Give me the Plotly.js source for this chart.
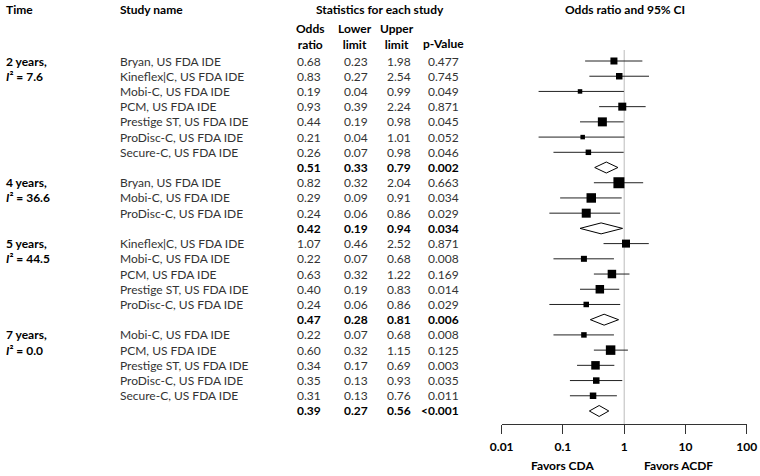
<!DOCTYPE html>
<html>
<head>
<meta charset="utf-8">
<script src="https://cdn.plot.ly/plotly-3.0.1.min.js"></script>
<style>html,body{margin:0;padding:0;background:#fff;}#chart{width:760px;height:476px;}</style>
</head>
<body>
<div id="chart"></div>
<script>
// ---------- DATA ----------
const groupLabels = ["2 years,", "4 years,", "5 years,", "7 years,"];
const groupI2 = ["7.6", "36.6", "44.5", "0.0"];
const groupSizes = [8, 4, 6, 6]; // rows per group incl. summary row

const studyNames = [
  "Bryan, US FDA IDE", "Kineflex|C, US FDA IDE", "Mobi-C, US FDA IDE", "PCM, US FDA IDE",
  "Prestige ST, US FDA IDE", "ProDisc-C, US FDA IDE", "Secure-C, US FDA IDE", "",
  "Bryan, US FDA IDE", "Mobi-C, US FDA IDE", "ProDisc-C, US FDA IDE", "",
  "Kineflex|C, US FDA IDE", "Mobi-C, US FDA IDE", "PCM, US FDA IDE", "Prestige ST, US FDA IDE", "ProDisc-C, US FDA IDE", "",
  "Mobi-C, US FDA IDE", "PCM, US FDA IDE", "Prestige ST, US FDA IDE", "ProDisc-C, US FDA IDE", "Secure-C, US FDA IDE", ""
];
const isSummary = [
  0,0,0,0,0,0,0,1,
  0,0,0,1,
  0,0,0,0,0,1,
  0,0,0,0,0,1
];
const oddsRatio = [
  0.68, 0.83, 0.19, 0.93, 0.44, 0.21, 0.26, 0.51,
  0.82, 0.29, 0.24, 0.42,
  1.07, 0.22, 0.63, 0.40, 0.24, 0.47,
  0.22, 0.60, 0.34, 0.35, 0.31, 0.39
];
const lowerLimit = [
  0.23, 0.27, 0.04, 0.39, 0.19, 0.04, 0.07, 0.33,
  0.32, 0.09, 0.06, 0.19,
  0.46, 0.07, 0.32, 0.19, 0.06, 0.28,
  0.07, 0.32, 0.17, 0.13, 0.13, 0.27
];
const upperLimit = [
  1.98, 2.54, 0.99, 2.24, 0.98, 1.01, 0.98, 0.79,
  2.04, 0.91, 0.86, 0.94,
  2.52, 0.68, 1.22, 0.83, 0.86, 0.81,
  0.68, 1.15, 0.69, 0.93, 0.76, 0.56
];
const pValues = [
  "0.477", "0.745", "0.049", "0.871", "0.045", "0.052", "0.046", "0.002",
  "0.663", "0.034", "0.029", "0.034",
  "0.871", "0.008", "0.169", "0.014", "0.029", "0.006",
  "0.008", "0.125", "0.003", "0.035", "0.011", "<0.001"
];
// relative study weight (drives square size)
const studyWeight = [
  7, 6.5, 4.5, 8, 9, 4.5, 5.5, null,
  11, 9.5, 9, null,
  8, 6, 8.5, 8.5, 5.5, null,
  5.5, 9.5, 8.5, 6.5, 6.5, null
];
const tickValues = [0.01, 0.1, 1, 10, 100];
const tickLabels = ["0.01", "0.1", "1", "10", "100"];

// ---------- BUILD ----------
const FONT = "Lato, 'Open Sans', sans-serif";
const rows = oddsRatio.map((_, i) => i);

// studies (squares with CI)
const sx = [], sy = [], sPlus = [], sMinus = [], sSize = [];
rows.forEach(i => {
  if (!isSummary[i]) {
    sx.push(oddsRatio[i]); sy.push(i);
    sPlus.push(upperLimit[i] - oddsRatio[i]);
    sMinus.push(oddsRatio[i] - lowerLimit[i]);
    sSize.push(studyWeight[i]);
  }
});
const studyTrace = {
  type: "scatter", mode: "markers", x: sx, y: sy,
  marker: {symbol: "square", size: sSize, color: "#000", opacity: 1, line: {width: 0}},
  error_x: {type: "data", symmetric: false, array: sPlus, arrayminus: sMinus,
            width: 0, thickness: 1, color: "#222"},
  hoverinfo: "skip", showlegend: false, cliponaxis: false
};

// summary diamonds
const dx = [], dy = [], H = 0.36;
rows.forEach(i => {
  if (isSummary[i]) {
    dx.push(lowerLimit[i], oddsRatio[i], upperLimit[i], oddsRatio[i], lowerLimit[i], null);
    dy.push(i, i - H, i, i + H, i, null);
  }
});
const diamondTrace = {
  type: "scatter", mode: "lines", x: dx, y: dy, fill: "toself",
  fillcolor: "#fff", line: {color: "#000", width: 1}, connectgaps: false,
  hoverinfo: "skip", showlegend: false
};

const W = 760, PH = 424;
const px = v => v / W;
const py = v => (PH - v) / PH;
const ann = [];
function add(text, x, y, opts) {
  ann.push(Object.assign({text: text, x: x, y: y, xref: "paper", yref: "y",
    showarrow: false, xanchor: "left", yanchor: "middle",
    font: {family: FONT, size: 12, color: "#333"}}, opts || {}));
}
function header(text, x, y, anchor) {
  add("<b>" + text + "</b>", px(x), py(y), {yref: "paper", xanchor: anchor,
    font: {family: FONT, size: 12, color: "#000"}});
}
header("Time", 4, 9, "left");
header("Study name", 118, 9, "left");
header("Statistics for each study", 380, 9, "center");
header("Odds ratio and 95% CI", 625, 9, "center");
header("Odds<br>ratio", 310.5, 36.5, "center");
header("Lower<br>limit", 354.5, 36.5, "center");
header("Upper<br>limit", 397, 36.5, "center");
header("p-Value", 443, 44, "center");
header("Favors CDA", 562, 465, "center");
header("Favors ACDF", 678, 465, "center");

// group labels
let start = 0;
groupLabels.forEach((g, k) => {
  const bf = {family: FONT, size: 12, color: "#000"};
  add("<b>" + g + "</b>", px(4), start, {font: bf});
  add("<b><i>I</i>\u00B2 = " + groupI2[k] + "</b>", px(4), start + 1, {font: bf});
  start += groupSizes[k];
});

rows.forEach(i => {
  const bold = isSummary[i];
  const f = {family: FONT, size: 12, color: bold ? "#000" : "#333"};
  const w = s => bold ? "<b>" + s + "</b>" : s;
  if (studyNames[i]) add(studyNames[i], px(118), i, {font: f});
  add(w(oddsRatio[i].toFixed(2)), px(323), i, {xanchor: "right", font: f});
  add(w(lowerLimit[i].toFixed(2)), px(369.5), i, {xanchor: "right", font: f});
  add(w(upperLimit[i].toFixed(2)), px(412.5), i, {xanchor: "right", font: f});
  add(w(pValues[i]), px(460.5), i, {xanchor: "right", font: f});
});

const rowPx = 15.217, row0 = 61;
const layout = {
  width: 760, height: 476,
  margin: {l: 0, r: 0, t: 0, b: 476 - PH, pad: 0},
  paper_bgcolor: "#fff", plot_bgcolor: "#fff",
  showlegend: false,
  xaxis: {
    type: "log", range: [-2, 2], domain: [501.7 / W, 746.7 / W],
    tickvals: tickValues, ticktext: tickLabels,
    showline: true, linecolor: "#333", linewidth: 1,
    ticks: "outside", ticklen: 9, tickcolor: "#333", tickwidth: 1,
    ticklabelstandoff: 3,
    showgrid: false, zeroline: false, fixedrange: true,
    tickfont: {family: FONT, size: 12, color: "#000", weight: "bold"}
  },
  yaxis: {
    range: [(PH - row0) / rowPx, -row0 / rowPx],
    visible: false, showgrid: false, zeroline: false, fixedrange: true
  },
  shapes: [{type: "line", xref: "x", yref: "paper", x0: 1, x1: 1,
            y0: 0, y1: py(50), line: {color: "#bbb", width: 1}, layer: "below"}],
  annotations: ann
};

Plotly.newPlot("chart", [diamondTrace, studyTrace], layout, {displayModeBar: false, staticPlot: true});
</script>
</body>
</html>
